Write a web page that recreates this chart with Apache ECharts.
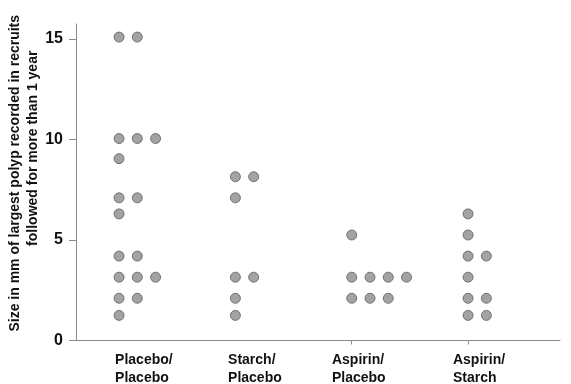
<!DOCTYPE html>
<html>
<head>
<meta charset="utf-8">
<script src="https://cdn.jsdelivr.net/npm/echarts@6/dist/echarts.min.js"></script>
<style>
  html, body { margin: 0; padding: 0; background: #fff; }
  #chart { width: 571px; height: 384px; }
</style>
</head>
<body>
<div id="chart"></div>
<script>
// Treatment groups and the largest polyp size (mm) recorded per recruit
const groups = ['Placebo/\nPlacebo', 'Starch/\nPlacebo', 'Aspirin/\nPlacebo', 'Aspirin/\nStarch'];
const placeboPlacebo = [15.1, 15.1, 10.05, 10.05, 10.05, 9.05, 7.1, 7.1, 6.3, 4.2, 4.2, 3.15, 3.15, 3.15, 2.1, 2.1, 1.25];
const starchPlacebo = [8.15, 8.15, 7.1, 3.15, 3.15, 2.1, 1.25];
const aspirinPlacebo = [5.25, 3.15, 3.15, 3.15, 3.15, 2.1, 2.1, 2.1];
const aspirinStarch = [6.3, 5.25, 4.2, 4.2, 3.15, 2.1, 2.1, 1.25, 1.25];
const yTicks = [0, 5, 10, 15];

const groupValues = [placeboPlacebo, starchPlacebo, aspirinPlacebo, aspirinStarch];

// Stack equal values side by side: each repeat moves one column to the right
const COLUMN_STEP = 0.157;
const points = [];
groupValues.forEach((vals, g) => {
  const seen = {};
  vals.forEach(v => {
    const k = seen[v] || 0;
    seen[v] = k + 1;
    points.push([g + k * COLUMN_STEP, v]);
  });
});

// Left edge of each group's two-line label, relative to its first column
const labelShift = [-0.034, -0.063, -0.17, -0.13];
const labelValues = groups.map((_, i) => i + labelShift[i]);

const font = '"Liberation Sans", Arial, sans-serif';
const chart = echarts.init(document.getElementById('chart'), null, { renderer: 'canvas' });
chart.setOption({
  animation: false,
  grid: { left: 76, right: 11, top: 24, bottom: 43.5, containLabel: false, outerBoundsMode: 'none' },
  xAxis: {
    type: 'value',
    min: -0.37,
    max: 3.79,
    interval: 1,
    splitLine: { show: false },
    axisLine: { show: true, onZero: false, lineStyle: { color: '#8a8a8a', width: 1 } },
    axisTick: { show: true, customValues: [2, 3], length: 4, inside: false, lineStyle: { color: '#8a8a8a' } },
    axisLabel: {
      customValues: labelValues,
      formatter: v => {
        const i = labelValues.findIndex(x => Math.abs(x - v) < 1e-6);
        return i >= 0 ? groups[i] : '';
      },
      margin: 11,
      fontFamily: font,
      fontWeight: 'bold',
      fontSize: 14,
      lineHeight: 18,
      color: '#111',
      align: 'left'
    }
  },
  yAxis: {
    type: 'value',
    min: 0,
    max: 15.75,
    interval: 5,
    splitLine: { show: false },
    axisLine: { show: true, onZero: false, lineStyle: { color: '#8a8a8a', width: 1 } },
    axisTick: { show: true, customValues: yTicks, length: 7, lineStyle: { color: '#8a8a8a' } },
    axisLabel: {
      customValues: yTicks,
      margin: 13,
      fontFamily: font,
      fontWeight: 'bold',
      fontSize: 16,
      color: '#111'
    },
    name: '{a|Size in mm of largest polyp recorded in recruits}\n{b|followed for more than 1 year}',
    nameLocation: 'middle',
    nameGap: 34,
    nameMoveOverlap: false,
    nameTextStyle: {
      fontFamily: font,
      fontWeight: 'bold',
      fontSize: 14,
      color: '#111',
      lineHeight: 18,
      padding: [0, 0, 0, 18],
      rich: {
        a: { fontFamily: font, fontWeight: 'bold', fontSize: 14, color: '#111', lineHeight: 18 },
        b: { fontFamily: font, fontWeight: 'bold', fontSize: 14, color: '#111', lineHeight: 18, padding: [0, 0, 0, 50] }
      }
    }
  },
  series: [{
    type: 'scatter',
    data: points,
    symbol: 'circle',
    symbolSize: 10,
    itemStyle: { color: '#8c8c8c', borderColor: '#5c5c5c', borderWidth: 1 }
  }]
});
</script>
</body>
</html>
